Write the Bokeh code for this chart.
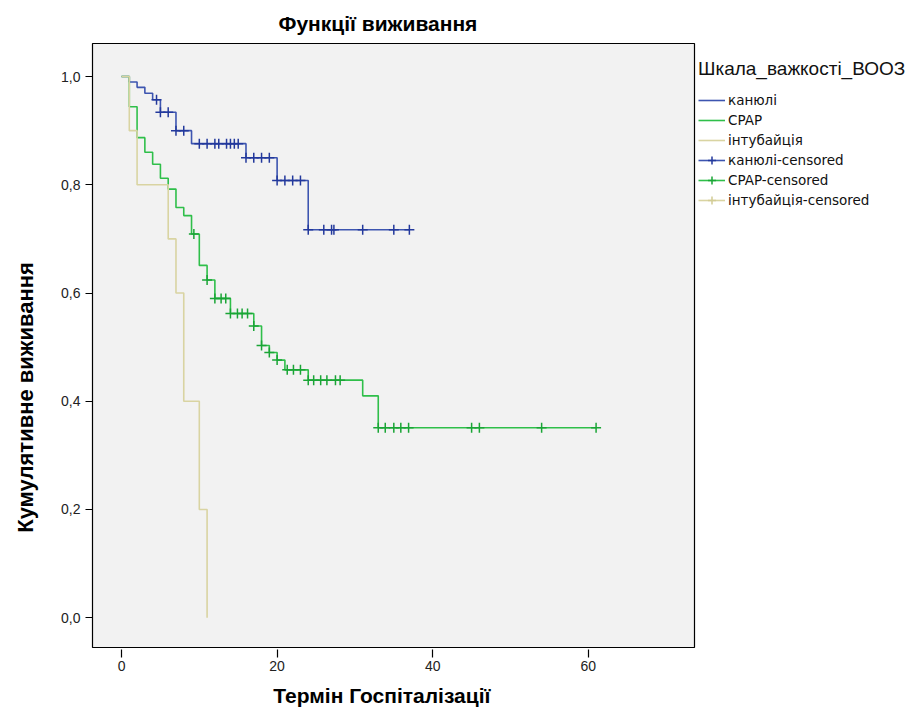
import numpy as np
from bokeh.plotting import figure
from bokeh.models import Range1d, FixedTicker, Legend, LegendItem, CustomJSTickFormatter
from bokeh.embed import file_html
from bokeh.resources import INLINE

# ---------------- data ----------------
group_names = ["канюлі", "CPAP", "інтубайція"]
legend_title = "Шкала_важкості_ВООЗ"
chart_title = "Функції виживання"
x_label = "Термін Госпіталізації"
y_label = "Кумулятивне виживання"

kan_time = [0, 1, 2, 3, 4, 5, 7, 9, 16, 20, 24, 37]
kan_surv = [1.0, 0.990, 0.980, 0.969, 0.957, 0.934, 0.900, 0.876, 0.850, 0.808, 0.717, 0.717]
kan_cens = [4.5, 5, 6, 7, 8, 10, 11, 12, 12.5, 13.5, 14, 14.5, 15, 16, 17, 18, 19,
            20, 21, 22, 23, 24, 26, 27, 27.3, 31, 35, 37]

cpap_time = [0, 1, 2, 3, 4, 5, 6, 7, 8, 9, 10, 11, 12, 14, 17, 18, 19, 20, 21, 24, 31, 33, 61]
cpap_surv = [1.0, 0.944, 0.887, 0.860, 0.838, 0.812, 0.792, 0.758, 0.743, 0.709, 0.651, 0.624,
             0.590, 0.562, 0.539, 0.503, 0.490, 0.476, 0.458, 0.439, 0.410, 0.351, 0.351]
cpap_cens = [9.3, 11, 12, 12.8, 13.4, 14, 14.9, 15.5, 16.2, 17, 18, 19, 20, 21.3, 22.1, 23,
             24, 24.7, 25.6, 26.4, 27.5, 28.1, 33, 33.9, 35, 35.9, 36.9, 45, 46, 54, 61]

int_time = [0, 1, 2, 6, 7, 8, 10, 11]
int_surv = [1.0, 0.9, 0.8, 0.7, 0.6, 0.4, 0.2, 0.0]
int_cens = []

x_ticks = [0, 20, 40, 60]
y_ticks = [0.0, 0.2, 0.4, 0.6, 0.8, 1.0]

line_colors = ["#3d55b0", "#2fbf4a", "#d9d4a2"]
cross_colors = ["#23399c", "#1aa536", "#d2cc95"]


def surv_at(times, surv, c):
    if len(c) == 0:
        return []
    idx = np.searchsorted(np.asarray(times, float), np.asarray(c, float), side="right") - 1
    return list(np.asarray(surv)[idx])


FONT = "Liberation Sans"
NB = "\u00a0"

p = figure(frame_width=602, frame_height=604,
           min_border_left=92, min_border_right=0, min_border_top=43, min_border_bottom=60,
           x_range=Range1d(-3.73, 73.65), y_range=Range1d(-0.055, 1.061),
           output_backend="svg", toolbar_location=None, title=chart_title)

p.background_fill_color = "#f2f2f2"
p.border_fill_color = "white"
p.outline_line_color = "black"
p.outline_line_width = 1.2
p.xgrid.visible = False
p.ygrid.visible = False

p.title.text_font = FONT
p.title.text_font_size = "21px"
p.title.text_font_style = "bold"
p.title.text_color = "black"
p.title.align = "left"
p.title.offset = 186
p.title.standoff = 18

# axes
p.xaxis.ticker = FixedTicker(ticks=x_ticks)
p.yaxis.ticker = FixedTicker(ticks=y_ticks)
p.yaxis.formatter = CustomJSTickFormatter(code="return tick.toFixed(1).replace('.', ',');")
for ax in (p.xaxis[0], p.yaxis[0]):
    ax.axis_line_color = None
    ax.major_tick_line_color = "black"
    ax.major_tick_line_width = 1.2
    ax.minor_tick_line_color = None
    ax.major_label_text_font = FONT
    ax.major_label_text_font_size = "14px"
    ax.major_label_text_color = "#222222"
    ax.axis_label_text_font = FONT
    ax.axis_label_text_font_style = "bold"
    ax.axis_label_text_color = "black"

p.xaxis.major_tick_in = -2
p.xaxis.major_tick_out = 10
p.xaxis.major_label_standoff = 3
p.xaxis.axis_label = x_label + NB * 4
p.xaxis.axis_label_text_font_size = "21px"
p.xaxis.axis_label_standoff = 10

p.yaxis.major_tick_in = 0
p.yaxis.major_tick_out = 7
p.yaxis.major_label_standoff = 5
p.yaxis.axis_label = y_label + NB * 17
p.yaxis.axis_label_text_font_size = "22px"
p.yaxis.axis_label_standoff = 20

# curves
series = [(kan_time, kan_surv, kan_cens), (cpap_time, cpap_surv, cpap_cens), (int_time, int_surv, int_cens)]
line_renderers = []
cross_renderers = []
for (t, s, c), lc, cc in zip(series, line_colors, cross_colors):
    r = p.step(t, s, mode="after", line_color=lc, line_width=1.6)
    line_renderers.append(r)
    if len(c):
        cr = p.scatter(c, surv_at(t, s, c), marker="cross", size=10, line_color=cc, line_width=1.5)
    else:
        # no censored cases in this group: legend-only marker (nothing drawn on the plot)
        cr = p.scatter([np.nan], [np.nan], marker="cross", size=10, line_color=cc, line_width=1.5)
    cross_renderers.append(cr)

items = [LegendItem(label=n, renderers=[r]) for n, r in zip(group_names, line_renderers)]
items += [LegendItem(label=n + "-censored", renderers=[lr, cr])
          for n, lr, cr in zip(group_names, line_renderers, cross_renderers)]

legend = Legend(items=items, location=(4, 437), padding=0, margin=0,
                border_line_color=None, background_fill_alpha=0,
                title=legend_title, title_text_font=FONT, title_text_font_size="19px",
                title_text_font_style="normal", title_text_color="#111111", title_standoff=10,
                glyph_width=27, glyph_height=20, label_height=20, spacing=0, label_standoff=3,
                label_text_font="DejaVu Sans", label_text_font_size="13.5px",
                label_text_color="#111111")
p.add_layout(legend, "right")

open("out.html", "w").write(file_html(p, INLINE))
